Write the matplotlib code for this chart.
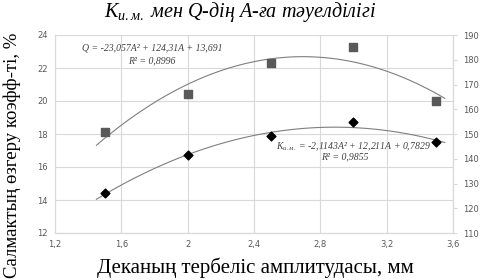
import matplotlib

matplotlib.use("Agg")

import matplotlib.pyplot as plt
import numpy as np

# amplitude, mm
A = [1.5, 2.0, 2.5, 3.0, 3.5]
# K (left axis, %)
K_VALUES = [14.4, 16.7, 17.9, 18.7, 17.5]
# Q (right axis)
Q_VALUES = [150.7, 166.0, 178.7, 185.3, 163.3]

Q_COEF = (-23.057, 124.31, 13.691)
K_COEF = (-2.1143, 12.211, 0.7829)
TREND_RANGE = (1.45, 3.55)

X_TICKS = [1.2, 1.6, 2.0, 2.4, 2.8, 3.2, 3.6]
X_TICK_LABELS = ["1,2", "1,6", "2", "2,4", "2,8", "3,2", "3,6"]
LEFT_TICKS = [12, 14, 16, 18, 20, 22, 24]
RIGHT_TICKS = [110, 120, 130, 140, 150, 160, 170, 180, 190]

SERIF = "Liberation Serif"
TICK_COLOR = "#595959"
GRID_COLOR = "#d9d9d9"

plt.rcParams["mathtext.fontset"] = "custom"
plt.rcParams["mathtext.it"] = "Liberation Serif:italic"
plt.rcParams["mathtext.rm"] = "Liberation Serif"

fig = plt.figure(figsize=(4.81, 2.8), dpi=100)
ax = fig.add_axes([55 / 481, 1 - 233 / 280, 398 / 481, 198 / 280])
ax2 = ax.twinx()

ax.set_xlim(1.2, 3.6)
ax.set_ylim(12, 24)
ax2.set_ylim(110, 190)

ax.set_xticks(X_TICKS)
ax.set_xticklabels(X_TICK_LABELS)
ax.set_yticks(LEFT_TICKS)
ax2.set_yticks(RIGHT_TICKS)
ax.grid(True, color=GRID_COLOR, linewidth=0.8)
ax.set_axisbelow(True)

for a in (ax, ax2):
    a.spines["top"].set_visible(False)
    for side in ("left", "bottom", "right"):
        a.spines[side].set_color(GRID_COLOR)
        a.spines[side].set_linewidth(0.8)
ax.tick_params(axis="both", length=0, labelsize=6, colors=TICK_COLOR, pad=5)
ax2.tick_params(axis="y", length=3, labelsize=6, colors=TICK_COLOR, pad=4)
ax2.tick_params(axis="y", color=GRID_COLOR)

xs = np.linspace(TREND_RANGE[0], TREND_RANGE[1], 100)
q_fit = np.polyval(Q_COEF, xs)
k_fit = np.polyval(K_COEF, xs)

ax2.plot(xs, q_fit, color="#7f7f7f", linewidth=0.8)
ax2.scatter(A, Q_VALUES, marker="s", s=34, color="#595959", zorder=3)
ax.plot(xs, k_fit, color="#7f7f7f", linewidth=0.8)
ax.scatter(A, K_VALUES, marker="D", s=20, color="black", zorder=3)

eq_style = dict(family=SERIF, style="italic", fontsize=7, color="#404040",
                ha="center", va="center")
ax.text(1.785, 23.2, "Q = -23,057A² + 124,31A + 13,691", **eq_style)
ax.text(1.785, 22.45, "R² = 0,8996", **eq_style)
ax.text(3.0, 17.25, r"$K_{и.м.}$ = -2,1143A² + 12,211A + 0,7829",
        **eq_style)
ax.text(2.95, 16.6, "R² = 0,9855", **eq_style)

fig.text(0.5, 1 - 12 / 280, r"$K_{и.м.}$ мен Q-дің A-ға тәуелділігі",
         family=SERIF, style="italic", fontsize=14.5, ha="center", va="center")
fig.text(0.53, 1 - 268 / 280, "Деканың тербеліс амплитудасы, мм",
         family=SERIF, fontsize=15, ha="center", va="center")
fig.text(12 / 481, 1 - 33 / 280, "Салмактың өзгеру коэфф-ті, %",
         family=SERIF, fontsize=13.5, ha="center", va="top", rotation=90)

fig.savefig("out.png", dpi=100)
